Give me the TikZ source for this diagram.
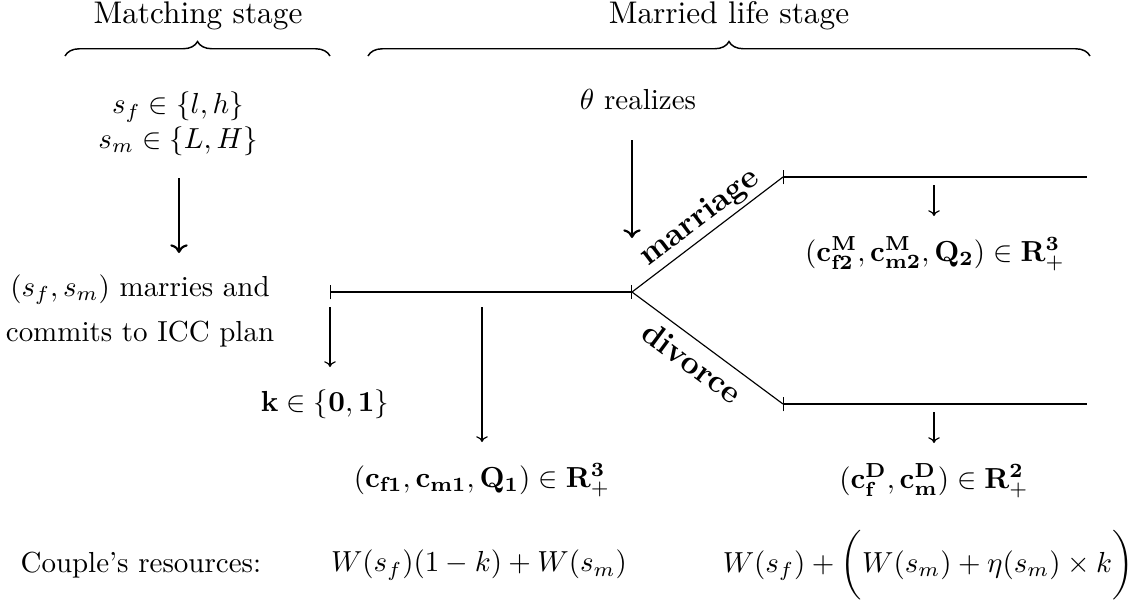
\documentclass[tikz,border=0pt]{standalone}
\usetikzlibrary{decorations.pathreplacing,arrows.meta}
\begin{document}
\begin{tikzpicture}[x=0.345pt,y=-0.345pt,
  lbl/.style={inner sep=0pt, align=center},
  title/.style={inner sep=0pt, font=\fontsize{10.8}{13}\selectfont},
  branch/.style={inner sep=0pt, font=\fontsize{11.2}{13}\selectfont\bfseries},
  thickarrow/.style={-{To[length=3pt,width=6pt]}, line width=0.75pt},
  thinarrow/.style={-{To[length=2pt,width=4pt]}, line width=0.4pt},
  seg/.style={line width=0.4pt},
  barboth/.style={{Bar[width=5pt]}-{Bar[width=5pt]}},
  barleft/.style={{Bar[width=5pt]}-},
  br/.style={decorate, decoration={brace, amplitude=5pt}, line width=0.5pt}]
\useasboundingbox (0,0) rectangle (1137,608);
% titles and braces
\node[title] (t1) at (198,16) {Matching stage};
\node[title] (t2) at (729,16) {Married life stage};
\coordinate (b1l) at (65,56);
\coordinate (b1r) at (330,56);
\coordinate (b2l) at (368,56);
\coordinate (b2r) at (1090,56);
\draw[br] (b1l) -- (b1r);
\draw[br] (b2l) -- (b2r);
% matching stage
\node[lbl] (s) at (178,124) {$s_f\in\{l,h\}$\\$s_m\in\{L,H\}$};
\coordinate (sa1) at (179,178);
\coordinate (sa2) at (179,253);
\draw[thickarrow] (sa1) -- (sa2);
\node[lbl] (mar) at (140,311) {$(s_f,s_m)$ marries and\\[3.5pt]commits to ICC plan};
% timeline
\coordinate (n0) at (330,292);
\coordinate (n1) at (632,292);
\coordinate (nM) at (783,177);
\coordinate (nMe) at (1087,177);
\coordinate (nD) at (783,404);
\coordinate (nDe) at (1087,404);
\draw[seg,barboth] (n0) -- (n1);
\draw[seg] (n1) -- (nM) node[pos=0.52,sloped,above=1pt,branch]{marriage};
\draw[seg] (n1) -- (nD) node[pos=0.48,sloped,below=3pt,branch]{divorce};
\draw[seg,barleft] (nM) -- (nMe);
\draw[seg,barleft] (nD) -- (nDe);
% theta
\node[lbl] (th) at (638,100) {$\theta$ realizes};
\coordinate (ta1) at (632,140);
\coordinate (ta2) at (632,238);
\draw[thickarrow] (ta1) -- (ta2);
% k
\coordinate (ka1) at (330,307);
\coordinate (ka2) at (330,367);
\draw[thinarrow] (ka1) -- (ka2);
\node[lbl] (k) at (325,404) {$\mathbf{k}\in\{\mathbf{0},\mathbf{1}\}$};
% period 1 consumption
\coordinate (ca1) at (482,307);
\coordinate (ca2) at (482,442);
\draw[thinarrow] (ca1) -- (ca2);
\node[lbl] (c1) at (482,480) {$(\mathbf{c_{f1}},\mathbf{c_{m1}},\mathbf{Q_1})\in\mathbf{R}^{\mathbf{3}}_+$};
% marriage outcome
\coordinate (ma1) at (934,185);
\coordinate (ma2) at (934,216);
\draw[thinarrow] (ma1) -- (ma2);
\node[lbl] (cM) at (935,254) {$(\mathbf{c}^{\mathbf{M}}_{\mathbf{f2}},\mathbf{c}^{\mathbf{M}}_{\mathbf{m2}},\mathbf{Q_2})\in\mathbf{R}^{\mathbf{3}}_+$};
% divorce outcome
\coordinate (da1) at (934,412);
\coordinate (da2) at (934,443);
\draw[thinarrow] (da1) -- (da2);
\node[lbl] (cD) at (934,481) {$(\mathbf{c}^{\mathbf{D}}_{\mathbf{f}},\mathbf{c}^{\mathbf{D}}_{\mathbf{m}})\in\mathbf{R}^{\mathbf{2}}_+$};
% resources
\node[lbl,anchor=west] (cr) at (20,565) {Couple's resources:};
\node[lbl] (w1) at (479,565) {$W(s_f)(1-k)+W(s_m)$};
\node[lbl,anchor=east] (w2) at (1134,565) {$W(s_f)+\bigg(W(s_m)+\eta(s_m)\times k\bigg)$};
\end{tikzpicture}
\end{document}
